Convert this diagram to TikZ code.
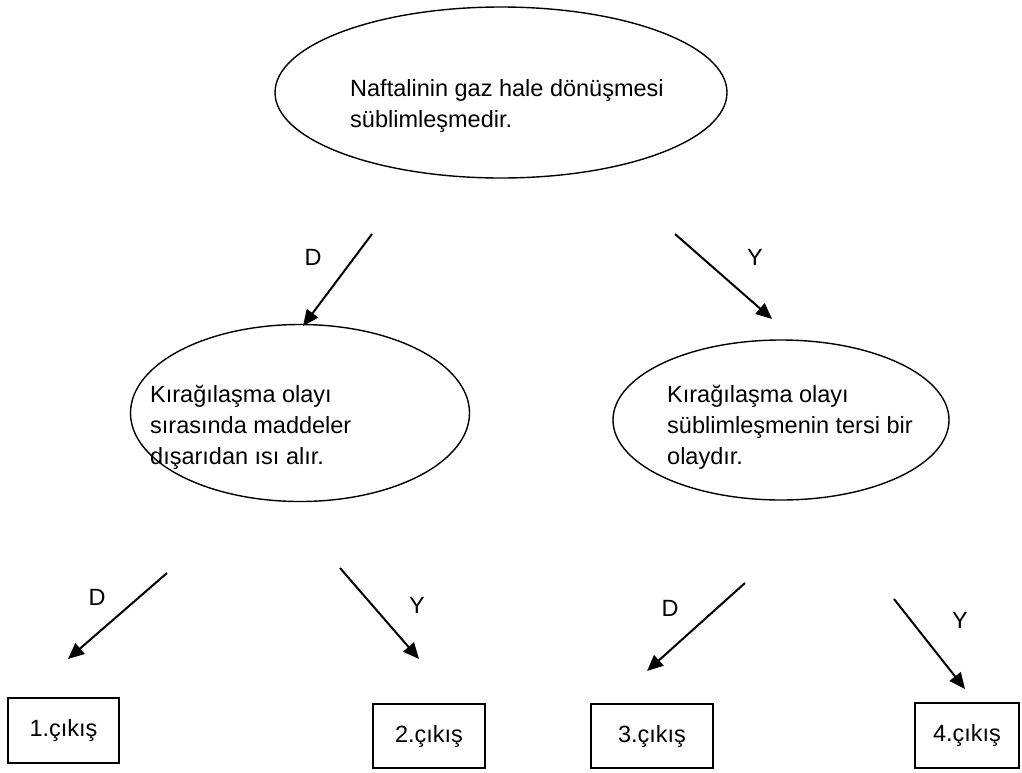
\documentclass[tikz,border=0pt]{standalone}
\usepackage{fontspec}
\setmainfont{Liberation Sans}
\usetikzlibrary{shapes.geometric,arrows.meta}

\begin{document}
\begin{tikzpicture}[x=1pt,y=-1pt,
    oval/.style={draw,line width=1.4pt,ellipse,inner sep=0pt},
    exitbox/.style={draw,line width=1.2pt,rectangle,inner sep=0pt,font=\fontsize{23.5}{28}\selectfont},
    arr/.style={line width=2pt,-{Triangle[length=16pt,width=14pt]}},
    txt/.style={anchor=base west,align=left,inner sep=0pt,font=\fontsize{23.5}{31}\selectfont},
    lbl/.style={inner sep=0pt,font=\fontsize{23.5}{28}\selectfont}]
    \useasboundingbox (0,0) rectangle (1022,772);
    % questions
    \node[oval,minimum width=452pt,minimum height=171pt] (q1) at (501,92.5) {};
    \node[oval,minimum width=339pt,minimum height=177pt] (q2) at (300,413) {};
    \node[oval,minimum width=336pt,minimum height=160pt] (q3) at (781,420) {};
    \node[txt] (q1text) at (350,127) {Naftalinin gaz hale dönüşmesi\\süblimleşmedir.};
    \node[txt] (q2text) at (150,464) {Kırağılaşma olayı\\sırasında maddeler\\dışarıdan ısı alır.};
    \node[txt] (q3text) at (667,464) {Kırağılaşma olayı\\süblimleşmenin tersi bir\\olaydır.};
    % exits
    \node[exitbox,minimum width=111pt,minimum height=65pt] (e1) at (63.5,730.5) {1.çıkış};
    \node[exitbox,minimum width=112pt,minimum height=64pt] (e2) at (429,736) {2.çıkış};
    \node[exitbox,minimum width=122pt,minimum height=64pt] (e3) at (652,736) {3.çıkış};
    \node[exitbox,minimum width=104pt,minimum height=65pt] (e4) at (967,735.5) {4.çıkış};
    % arrow ends
    \coordinate (a1s) at (372,234); \coordinate (a1e) at (303,326);
    \coordinate (a2s) at (675,234); \coordinate (a2e) at (772,319);
    \coordinate (a3s) at (167,573); \coordinate (a3e) at (68,659);
    \coordinate (a4s) at (340,568); \coordinate (a4e) at (419,659);
    \coordinate (a5s) at (745,583); \coordinate (a5e) at (647,671);
    \coordinate (a6s) at (894,599); \coordinate (a6e) at (965,689);
    \draw[arr] (a1s) -- (a1e);
    \draw[arr] (a2s) -- (a2e);
    \draw[arr] (a3s) -- (a3e);
    \draw[arr] (a4s) -- (a4e);
    \draw[arr] (a5s) -- (a5e);
    \draw[arr] (a6s) -- (a6e);
    % answers
    \node[lbl] (d1) at (313,257) {D};
    \node[lbl] (y1) at (755,257) {Y};
    \node[lbl] (d2) at (97,597) {D};
    \node[lbl] (y2) at (417,605) {Y};
    \node[lbl] (d3) at (670,608) {D};
    \node[lbl] (y3) at (960,620) {Y};
\end{tikzpicture}
\end{document}
